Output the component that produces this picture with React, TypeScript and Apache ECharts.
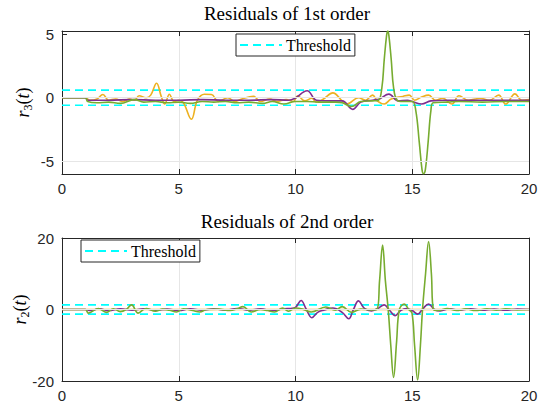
import React, { useEffect, useRef } from "react";
import * as echarts from "echarts";

type P = [number, number];

const xTicks = [0, 5, 10, 15, 20];
const yTicksTop = [-5, 0, 5];
const yTicksBottom = [-20, 0, 20];
const titles = ["Residuals of 1st order", "Residuals of 2nd order"];
const thresholdTop = 0.6;
const thresholdBottom = 1.3;

// Residuals of 1st order
const orange1: P[] = [
  [0, 0], [1, 0], [1.2, -0.2], [1.5, -0.1], [1.75, 0.25], [2.0, -0.2], [2.3, -0.1], [2.6, -0.3], [2.9, -0.1],
  [3.1, -0.2], [3.3, 0.15], [3.6, 0.0], [3.8, 0.2], [4.05, 1.14], [4.25, 0.1], [4.4, -0.5], [4.6, 0.27],
  [4.8, -0.3], [5.0, -0.2], [5.2, -0.4], [5.54, -1.7], [5.8, -0.2], [6.1, 0.27], [6.4, 0.25], [6.7, -0.3],
  [7.1, 0.0], [7.4, -0.3], [7.7, -0.1], [8.2, 0.1], [8.5, -0.3], [8.9, -0.1], [9.2, -0.3], [9.6, -0.15],
  [9.9, -0.3], [10.1, 0.15], [10.4, -0.25], [10.7, -0.05], [10.9, -0.35], [11.2, -0.1], [11.6, 0.38],
  [12.0, -0.25], [12.2, -0.5], [12.7, 0.0], [13.0, -0.2], [13.3, 0.2], [13.5, -0.25], [13.8, -0.5],
  [14.1, -0.1], [14.6, 0.1], [14.87, 0.2], [15.1, -0.2], [15.4, 0.05], [15.7, 0.2], [16.0, -0.2],
  [16.3, -0.05], [16.7, -0.5], [17.0, 0.15], [17.4, -0.2], [17.7, -0.1], [17.9, -0.05], [18.3, -0.2],
  [18.7, 0.2], [19.0, -0.5], [19.4, 0.3], [19.7, -0.2], [20, -0.15],
];
const purple1: P[] = [
  [0, 0], [1, 0], [1.1, -0.2], [2, -0.2], [3, -0.15], [4, -0.2], [5, -0.2], [6, -0.15], [7, -0.2], [8, -0.2],
  [9, -0.15], [9.7, -0.2], [9.96, -0.07], [10.5, 0.55], [10.9, -0.2], [11.5, -0.25], [12.0, -0.25],
  [12.45, -0.92], [12.8, -0.35], [13.3, -0.2], [13.6, -0.1], [14.0, 0.28], [14.4, -0.25], [14.8, -0.2],
  [15.0, -0.3], [15.4, -0.5], [15.8, -0.25], [16.5, -0.2], [17.5, -0.2], [18.5, -0.2], [20, -0.2],
];
const green1: P[] = [
  [0, 0], [1, 0], [1.1, -0.3], [1.5, -0.4], [2.0, -0.35], [2.5, -0.45], [3.1, -0.15], [3.5, -0.35], [4.0, -0.3],
  [4.5, -0.4], [5.0, -0.35], [5.5, -0.45], [6.0, -0.3], [6.5, -0.35], [7.0, -0.3], [7.5, -0.4], [8.0, -0.35],
  [8.6, -0.45], [9.0, -0.3], [9.5, -0.5], [10.0, -0.3], [10.5, -0.3], [11, -0.35], [11.7, -0.35], [12.0, -0.4],
  [12.4, -0.7], [12.8, -0.3], [13.3, -0.25], [13.55, -0.2], [13.7, 0.8], [13.8, 3.0], [13.9, 4.9],
  [13.95, 5.25], [14.0, 4.9], [14.1, 3.0], [14.2, 0.8], [14.35, -0.2], [14.6, -0.3], [15.0, -0.3],
  [15.15, -1.0], [15.3, -3.5], [15.42, -5.7], [15.48, -6.0], [15.56, -5.7], [15.68, -3.5], [15.8, -1.0],
  [15.9, -0.4], [16.5, -0.35], [17, -0.3], [18, -0.35], [19, -0.3], [20, -0.3],
];

// Residuals of 2nd order
const orange2: P[] = [[0, 0], [5, 0], [10, 0], [15, 0], [20, 0]];
const purple2: P[] = [
  [0, 0], [1, 0], [1.2, -0.3], [1.6, 0.2], [2.0, -0.3], [2.5, 0.2], [3.0, -0.2], [3.5, 0.2], [4.0, -0.2],
  [4.5, 0.1], [5.0, -0.3], [5.5, 0.2], [6.0, -0.2], [6.5, 0.2], [7.0, -0.2], [7.5, 0.3], [8.0, -0.2],
  [8.5, 0.2], [9.0, -0.3], [9.5, 0.2], [9.8, 0.3], [10.0, 0.6], [10.24, 2.5], [10.45, 0.2], [10.7, -2.3],
  [10.95, -0.8], [11.2, -0.2], [11.6, 0.4], [12.0, -0.8], [12.28, -2.6], [12.48, 0], [12.7, 2.4],
  [12.95, 0.3], [13.25, -0.4], [13.5, 0.2], [13.8, 1.3], [14.0, 0], [14.27, -1.7], [14.5, -0.3],
  [14.75, 0.3], [15.0, -0.3], [15.23, -1.3], [15.45, 0.2], [15.7, 1.5], [15.95, 0], [16.2, -0.4],
  [16.6, 0.2], [17, -0.2], [17.5, 0.2], [18, -0.2], [18.5, 0.1], [19, -0.2], [19.5, 0.1], [20, 0],
];
const green2: P[] = [
  [0, 0], [1, 0], [1.13, -1.0], [1.55, 0.3], [1.9, -0.8], [2.2, 0.2], [2.5, -0.6], [2.75, 0], [2.98, 1.3],
  [3.26, -1.0], [3.6, 0.3], [4.0, -0.5], [4.3, 0.1], [4.6, -0.2], [4.9, -0.7], [5.2, 0.2], [5.6, -0.3],
  [5.9, -0.7], [6.2, 0], [6.7, 0.1], [7.2, -0.3], [7.5, 0.2], [7.75, 0.8], [8.1, -0.7], [8.5, 0],
  [8.8, -0.3], [9.1, -0.7], [9.45, 0.4], [9.7, -0.5], [10.0, 0.4], [10.3, 0.1], [10.67, -0.7], [11.3, 0.7],
  [11.7, -0.2], [12.0, 0.8], [12.4, -0.8], [12.8, 0.1], [13.2, -0.1], [13.48, 0], [13.6, 8], [13.73, 18],
  [13.85, 8], [13.97, 0], [14.08, -10], [14.2, -19], [14.33, -9], [14.45, 0], [14.66, 1.5], [14.85, 0],
  [14.99, -1], [15.1, -10], [15.23, -19.7], [15.35, -10], [15.44, 0], [15.57, 10], [15.7, 19],
  [15.82, 10], [15.91, 0], [16.1, -0.3], [16.5, 0.3], [16.9, -0.3], [17.3, 0.2], [17.7, -0.3],
  [18.2, 0.2], [18.6, -0.2], [19.0, 0.2], [19.5, -0.1], [20, 0],
];

const COLORS = { orange: "#EDB120", purple: "#7E2F8E", green: "#77AC30", cyan: "#00FFFF" };
const AXIS = "#262626";
const GRID = "#e6e6e6";
const SERIF = "'Liberation Serif', 'Times New Roman', serif";
const SANS = "'Liberation Sans', Arial, sans-serif";

export default function App() {
  const ref = useRef<HTMLDivElement>(null);
  useEffect(() => {
    const chart = echarts.init(ref.current!, null, { renderer: "svg" });

    const grids = [
      { left: 62, right: 9, top: 31, height: 143, outerBoundsMode: "none", containLabel: false },
      { left: 62, right: 9, top: 238, height: 143, outerBoundsMode: "none", containLabel: false },
    ];

    const xAxes: any[] = [];
    const yAxes: any[] = [];
    const nameRich = {
      i: { fontFamily: SERIF, fontStyle: "italic", fontSize: 18, color: "#000" },
      n: { fontFamily: SERIF, fontSize: 18, color: "#000" },
      s: { fontFamily: SERIF, fontSize: 12, color: "#000", verticalAlign: "bottom", padding: [10, 0, 0, 0] },
    };
    [0, 1].forEach((g) => {
      const base = {
        type: "value", gridIndex: g, min: 0, max: 20, interval: 5,
        axisLine: { show: true, onZero: false, lineStyle: { color: AXIS, width: 1 } },
        axisTick: { show: true, inside: true, length: 5, lineStyle: { color: AXIS } },
      };
      xAxes.push({
        ...base, position: "bottom",
        axisLabel: { show: true, margin: 7, color: AXIS, fontFamily: SANS, fontSize: 15, customValues: xTicks },
        splitLine: { show: true, lineStyle: { color: GRID, width: 1 } },
      });
      xAxes.push({
        ...base, position: "top",
        axisLabel: { show: false },
        splitLine: { show: false },
      });
      const yMin = g === 0 ? -6.02 : -20;
      const yMax = g === 0 ? 5.26 : 20;
      const ticks = g === 0 ? yTicksTop : yTicksBottom;
      const ybase = {
        type: "value", gridIndex: g, min: yMin, max: yMax,
        axisLine: { show: true, onZero: false, lineStyle: { color: AXIS, width: 1 } },
        axisTick: { show: true, inside: true, length: 5, lineStyle: { color: AXIS }, customValues: ticks },
      };
      yAxes.push({
        ...ybase, position: "left",
        axisLabel: { show: true, margin: 8, color: AXIS, fontFamily: SANS, fontSize: 15, customValues: ticks },
        splitLine: { show: false },
        name: g === 0 ? "{i|r}{s|3}{n|(}{i|t}{n|)}" : "{i|r}{s|2}{n|(}{i|t}{n|)}",
        nameLocation: "middle",
        nameGap: g === 0 ? 28 : 31,
        nameMoveOverlap: false,
        nameTextStyle: { rich: nameRich },
      });
      yAxes.push({
        ...ybase, position: "right",
        axisLabel: { show: false },
        splitLine: { show: false },
      });
    });

    const line = (name: string, data: P[], color: string, g: number, extra: any = {}) => ({
      type: "line", name, data, xAxisIndex: g * 2, yAxisIndex: g * 2,
      showSymbol: false, symbol: "none", smooth: 0.4, clip: true,
      lineStyle: { color, width: 1.6 }, itemStyle: { color }, silent: true,
      ...extra,
    });
    const gridMark = (vals: number[]) => ({
      silent: true, symbol: "none", label: { show: false },
      lineStyle: { color: GRID, width: 1, type: "solid" },
      data: vals.map((v) => ({ yAxis: v })),
    });
    const thr = (g: number, v: number, marks?: number[]) =>
      line("Threshold", [[0, v], [20, v]], COLORS.cyan, g, {
        smooth: false,
        lineStyle: { color: COLORS.cyan, width: 1.6, type: [8, 5] },
        ...(marks ? { markLine: gridMark(marks) } : {}),
      });

    const series: any[] = [
      thr(0, thresholdTop, [-5, 0]), thr(0, -thresholdTop),
      line("s1", orange1, COLORS.orange, 0),
      line("s2", purple1, COLORS.purple, 0),
      line("s3", green1, COLORS.green, 0),
      thr(1, thresholdBottom, [0]), thr(1, -thresholdBottom),
      line("s1", orange2, COLORS.orange, 1),
      line("s2", purple2, COLORS.purple, 1),
      line("s3", green2, COLORS.green, 1),
    ];

    const legendBase = {
      data: ["Threshold"],
      orient: "horizontal",
      itemWidth: 42, itemHeight: 14, itemGap: 0,
      padding: [3, 4, 3, 3],
      backgroundColor: "#fff",
      borderColor: AXIS, borderWidth: 1, borderRadius: 0,
      selectedMode: false,
      itemStyle: { opacity: 0, borderWidth: 0 },
      textStyle: { fontFamily: SERIF, fontSize: 16, color: "#000", padding: [0, 0, 0, -1] },
    };

    chart.setOption({
      animation: false,
      backgroundColor: "#fff",
      title: titles.map((t, i) => ({
        text: t, left: 287, textAlign: "center", top: i === 0 ? 4 : 212, padding: 0,
        textStyle: { fontFamily: SERIF, fontSize: 19, fontWeight: "normal", color: "#000" },
      })),
      grid: grids,
      xAxis: xAxes,
      yAxis: yAxes,
      legend: [
        { ...legendBase, left: 236, top: 34 },
        { ...legendBase, left: 81, top: 240 },
      ],
      series,
    });
    return () => chart.dispose();
  }, []);
  return <div ref={ref} style={{ width: 538, height: 407, position: "absolute", left: 0, top: 0 }} />;
}
